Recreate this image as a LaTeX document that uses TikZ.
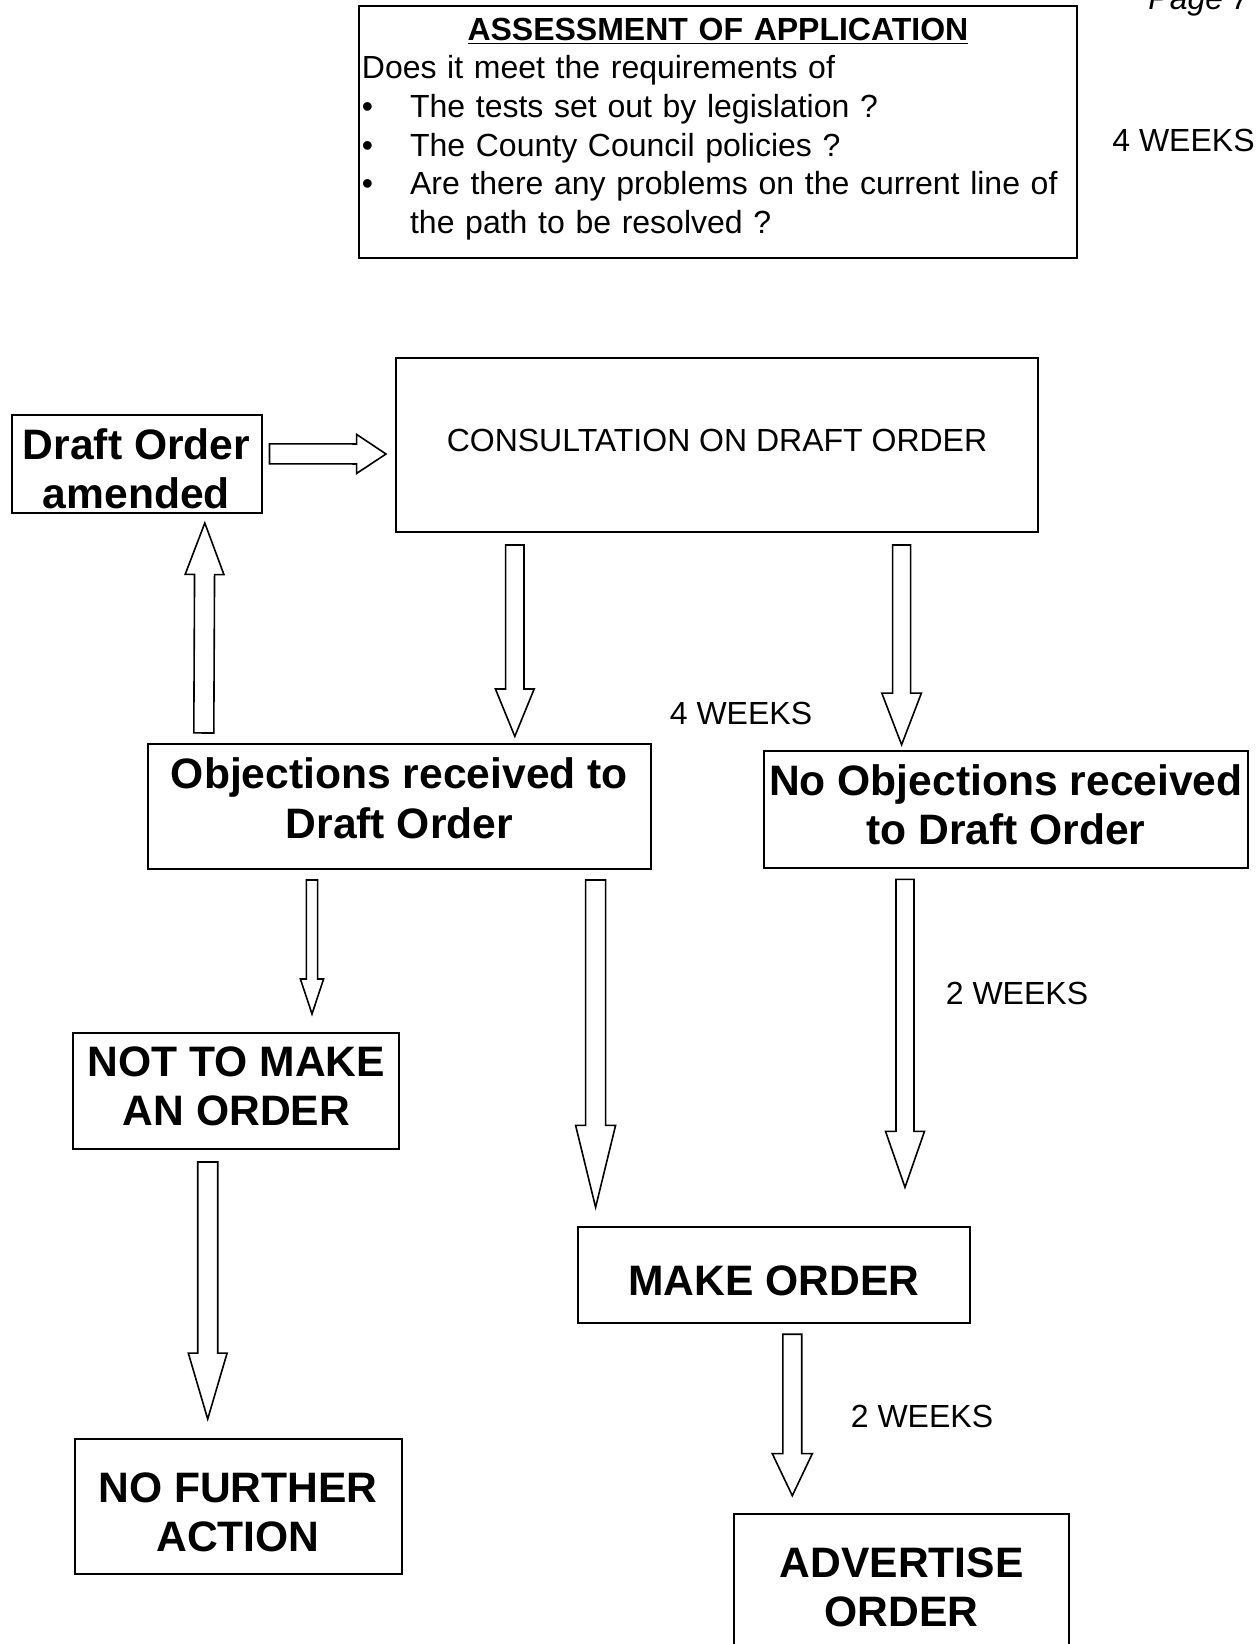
\documentclass[tikz,border=0pt]{standalone}
\usepackage{fontspec}
\setmainfont{Liberation Sans}
\usetikzlibrary{calc}

% hollow block arrow: start, tip, half shaft, half head, head length
\newcommand{\hollowarrow}[5]{%
  \coordinate (ha) at #1;
  \coordinate (hb) at #2;
  \coordinate (hh) at ($(hb)!#5!(ha)$);
  \draw[arrowline] ($(ha)!#3!90:(hb)$) -- ($(hh)!#3!-90:(ha)$) -- ($(hh)!#4!-90:(ha)$)
    -- (hb) -- ($(hh)!#4!90:(ha)$) -- ($(hh)!#3!90:(ha)$) -- ($(ha)!#3!-90:(hb)$) -- cycle;
}
% struts that set the text a little higher or lower in its box
\newcommand{\tstrut}[1]{\rule{0pt}{#1}}
\newcommand{\bstrut}[1]{\rule[-#1]{0pt}{0pt}}

\begin{document}
\begin{tikzpicture}[x=0.5pt, y=-0.5pt,
    box/.style={draw, line width=1pt, inner sep=2pt, align=center,
      font=\fontsize{21.3}{24.65}\selectfont\bfseries},
    plainbox/.style={draw, line width=1pt, inner sep=2pt, align=center,
      font=\fontsize{16}{19.35}\selectfont},
    weeks/.style={inner sep=0pt, font=\fontsize{16}{19.35}\selectfont},
    arrowline/.style={line width=0.8pt}]

  \useasboundingbox (0,0) rectangle (1259,1644);
  \fill[white] (0,0) rectangle (1259,1644);

  % Page number, cut off at the top edge
  \node[weeks, font=\fontsize{16}{19.35}\selectfont\itshape, anchor=base west] (page) at (1148,9) {Page 7};

  % Assessment box
  \node[draw, line width=1pt, anchor=north west, text width=356pt, inner xsep=1.6pt, inner ysep=6.1pt,
    font=\fontsize{16}{19.35}\selectfont] (assess) at (357.7,4.5) {%
    {\centering\bfseries\underline{ASSESSMENT OF APPLICATION}\par}
    \raggedright\noindent Does it meet the requirements of\par
    \hangindent=24.1pt\hangafter=1\noindent\makebox[24.1pt][l]{\textbullet}The tests set out by legislation ?\par
    \hangindent=24.1pt\hangafter=1\noindent\makebox[24.1pt][l]{\textbullet}The County Council policies ?\par
    \hangindent=24.1pt\hangafter=1\noindent\makebox[24.1pt][l]{\textbullet}Are there any problems on the current line of\newline
    the path to be resolved ?\rule[-6.3pt]{0pt}{6.3pt}\par};

  % Process boxes
  \node[plainbox, minimum width=321pt, minimum height=87pt] (cons) at (717,444.5) {\tstrut{12pt}CONSULTATION ON DRAFT ORDER\bstrut{4.74pt}};
  \node[box, inner ysep=1pt, minimum width=125pt, minimum height=48.8pt] (draft) at (136.5,463.8) {\tstrut{20.4pt}Draft Order\\amended};
  \node[box, minimum width=251.6pt, minimum height=62.35pt] (obj) at (399.4,806.6) {\tstrut{17pt}Objections received to\\Draft Order\bstrut{10.14pt}};
  \node[box, minimum width=241.6pt, minimum height=58.5pt] (noobj) at (1005.9,809.5) {\tstrut{17pt}No Objections received\\to Draft Order\bstrut{6.54pt}};
  \node[box, minimum width=163pt, minimum height=58.2pt] (notmake) at (236.4,1090.8) {\tstrut{17pt}NOT TO MAKE\\AN ORDER\bstrut{6.94pt}};
  \node[box, minimum width=163.5pt, minimum height=67.35pt] (nofurther) at (238,1506.7) {\tstrut{22pt}NO FURTHER\\ACTION\bstrut{1.54pt}};
  \node[box, minimum width=196pt, minimum height=48pt] (make) at (774,1274.6) {\tstrut{22pt}MAKE ORDER\bstrut{1.54pt}};
  \node[box, minimum width=167.75pt, minimum height=66.75pt] (advert) at (901.7,1581.2) {\tstrut{22pt}ADVERTISE\\ORDER\bstrut{0.94pt}};

  % Time labels
  \node[weeks] (w1) at (1183.5,140) {4 WEEKS};
  \node[weeks] (w2) at (741,713) {4 WEEKS};
  \node[weeks] (w3) at (1017,993.5) {2 WEEKS};
  \node[weeks] (w4) at (922,1416.5) {2 WEEKS};

  % Hollow arrows between boxes
  \hollowarrow{([shift={(7,-10)}]draft.east)}{([shift={(-9,9.5)}]cons.west)}{5pt}{9.75pt}{14.7pt}
  \hollowarrow{([shift={(57,-10.3)}]obj.north west)}{([shift={(68.3,9.4)}]draft.south)}{5pt}{9.7pt}{25.75pt}
  \hollowarrow{([shift={(-202.2,12.5)}]cons.south)}{([shift={(115.4,-6.9)}]obj.north)}{4.6pt}{9.7pt}{23.7pt}
  \hollowarrow{([shift={(184.6,12.5)}]cons.south)}{([shift={(-104.3,-5.3)}]noobj.north)}{4.5pt}{9.9pt}{25.8pt}
  \hollowarrow{([shift={(-87.4,10)}]obj.south)}{([shift={(75.6,-17.6)}]notmake.north)}{2.8pt}{5.8pt}{17.5pt}
  \hollowarrow{([shift={(196.2,10)}]obj.south)}{([shift={(-178.4,-18.3)}]make.north)}{5pt}{10pt}{41pt}
  \hollowarrow{([shift={(-100.9,10.3)}]noobj.south)}{([shift={(131,-38.3)}]make.north)}{4.5pt}{9.75pt}{28pt}
  \hollowarrow{([shift={(-28.7,12)}]notmake.south)}{([shift={(-30.3,-19.3)}]nofurther.north)}{5pt}{9.7pt}{33pt}
  \hollowarrow{([shift={(18.3,10.6)}]make.south)}{([shift={(-109.4,-17.8)}]advert.north)}{4.7pt}{10pt}{21pt}
\end{tikzpicture}
\end{document}
